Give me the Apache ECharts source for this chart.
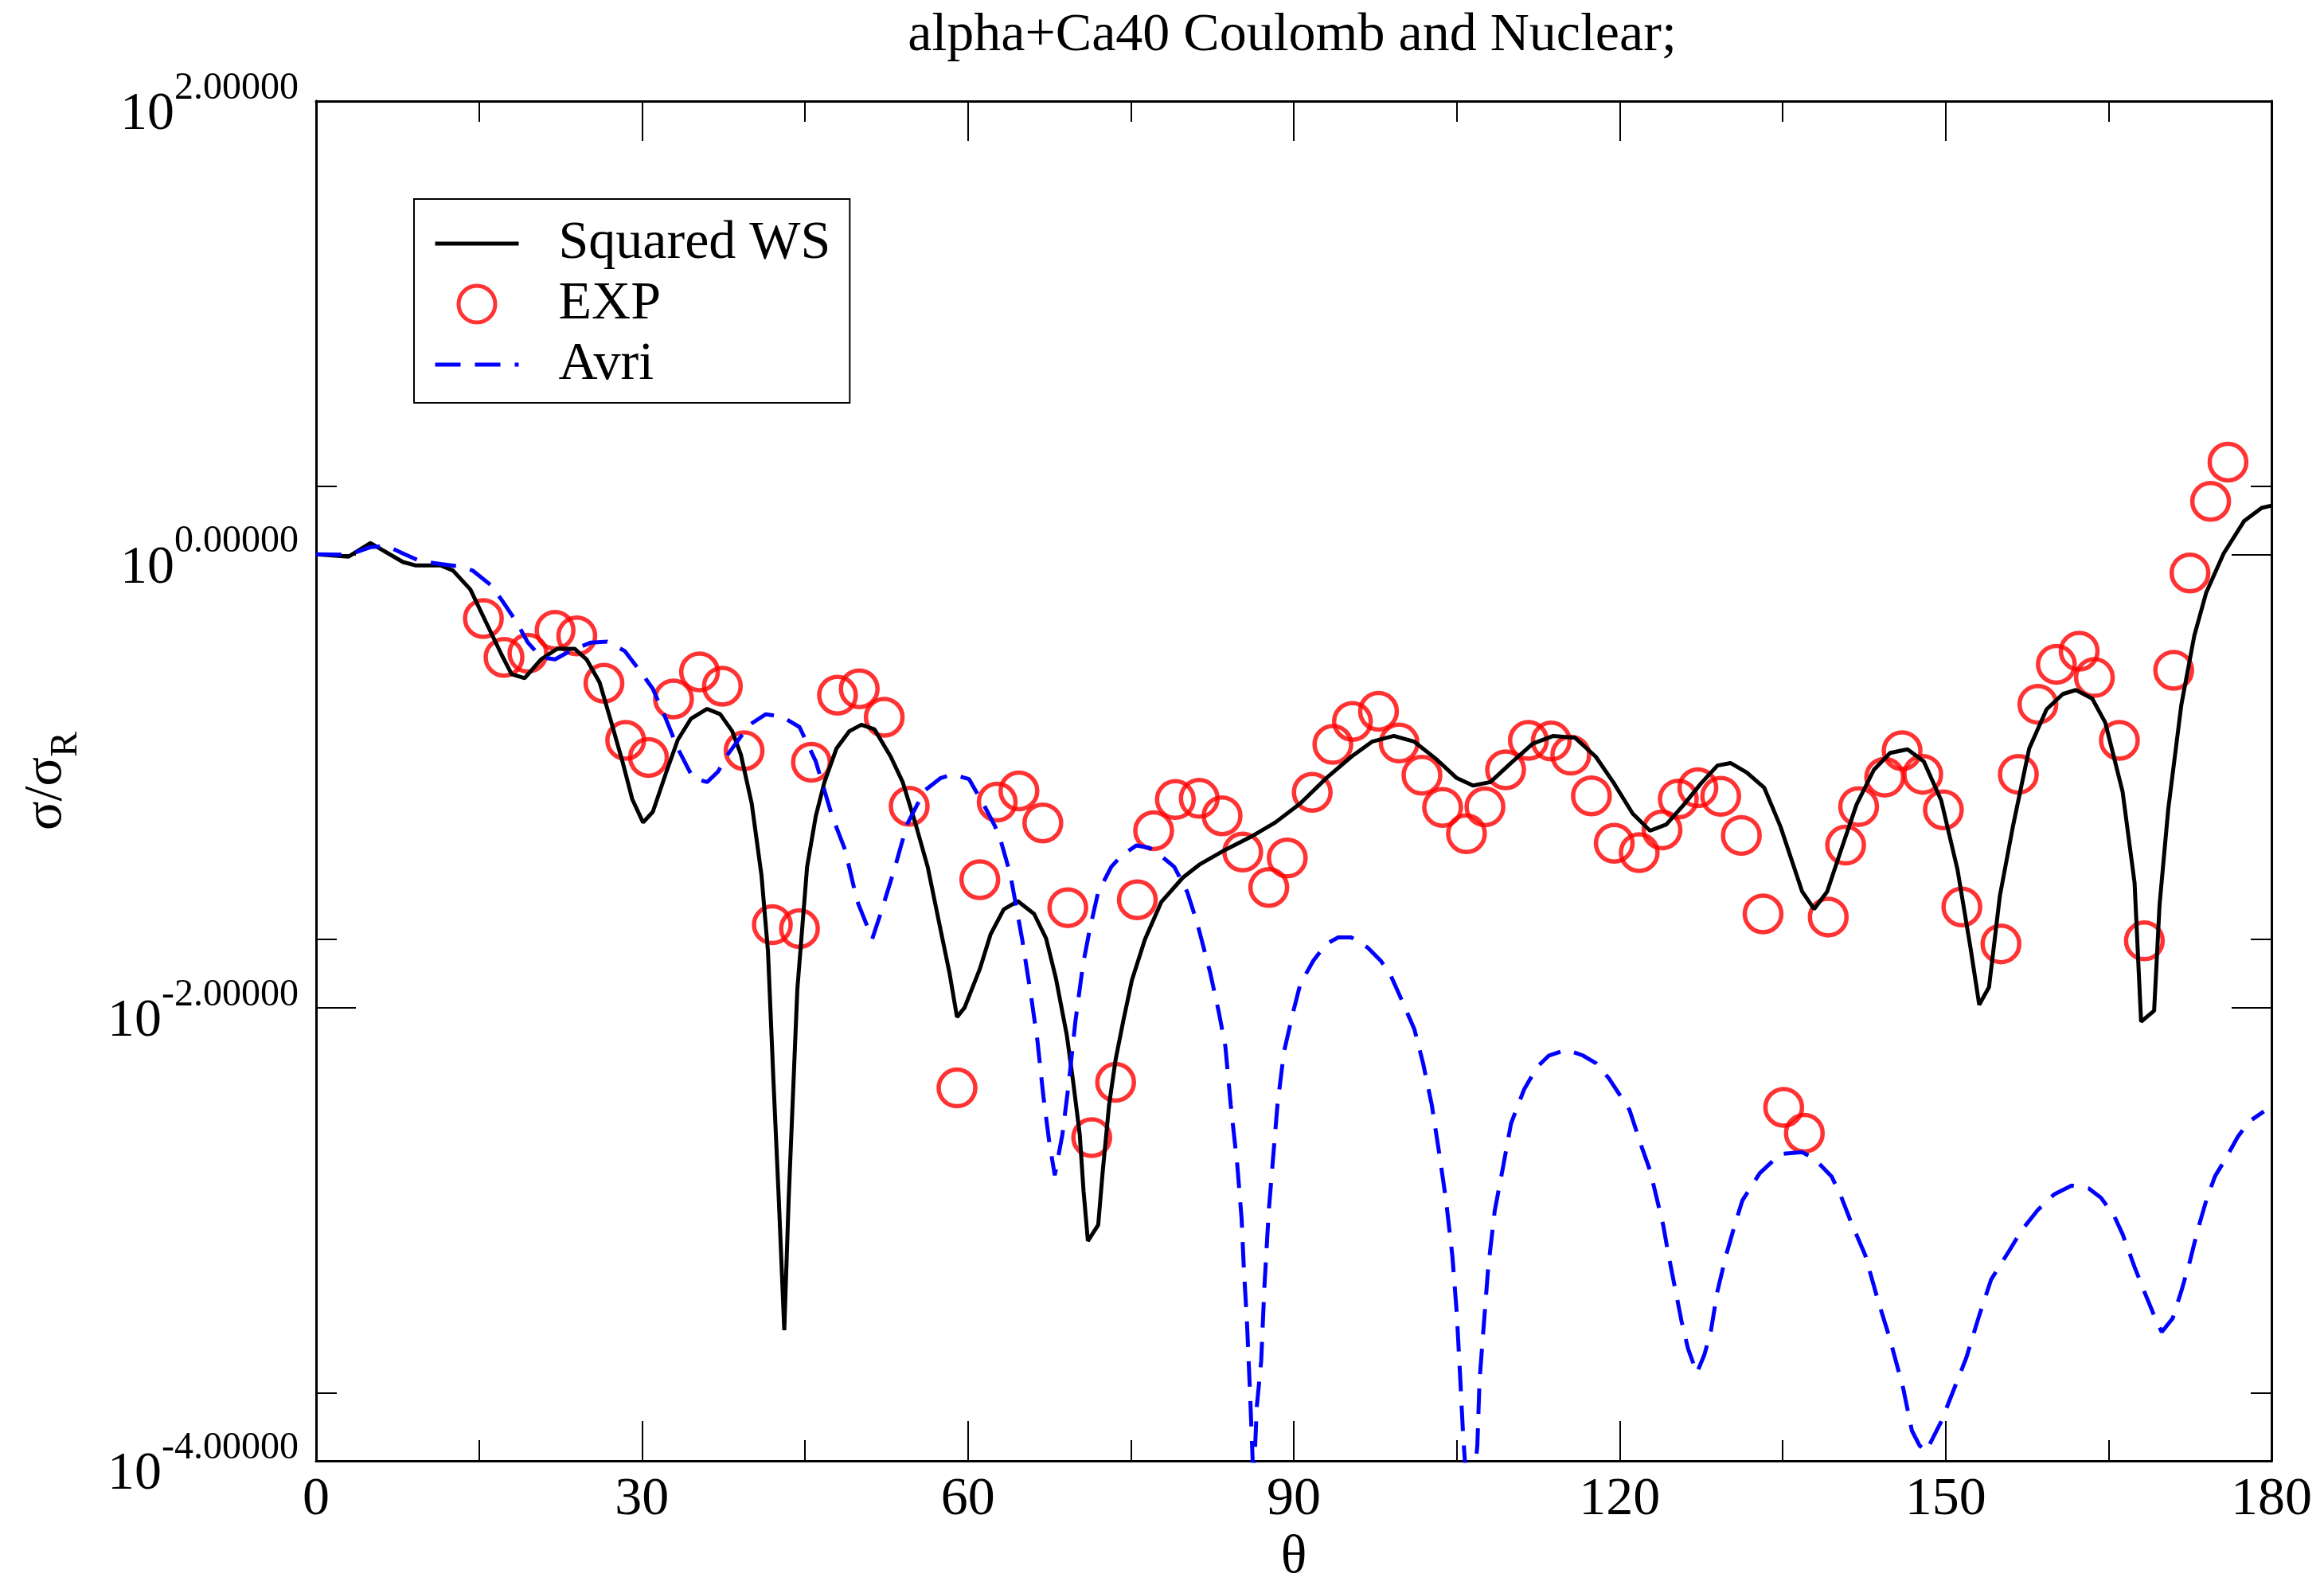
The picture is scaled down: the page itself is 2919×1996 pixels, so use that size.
<!DOCTYPE html>
<html><head><meta charset="utf-8">
<script src="https://cdn.jsdelivr.net/npm/echarts@6/dist/echarts.min.js"></script>
<style>html,body{margin:0;padding:0;background:#fff}#c{width:2919px;height:1996px}</style>
</head><body><div id="c"></div>
<script>
// ---- Data ----
const titleText = 'alpha+Ca40 Coulomb and Nuclear;';
const seriesNames = ['Squared WS', 'EXP', 'Avri'];

const wsTheta = [0,3.0,5.0,8.0,9.2,11.5,12.6,14.2,15.7,17.1,18.0,19.2,20.7,22.2,23.8,24.9,26.1,27.2,28.2,29.1,30.1,31.0,32.2,33.3,34.5,36.0,37.2,38.3,39.1,40.1,41.0,41.6,42.1,42.6,43.1,43.5,44.3,45.2,46.0,46.8,47.9,49.1,50.2,51.4,52.9,54.0,55.2,56.3,57.5,58.3,59.0,59.7,61.1,62.1,63.3,64.6,66.1,67.2,68.1,69.1,69.7,70.3,70.65,71.05,72.0,72.4,73.0,73.6,74.3,75.1,76.3,77.8,79.8,81.3,83.7,86.0,88.3,90.6,93.0,95.3,97.2,99.2,101.1,103.1,105.0,106.5,108.1,110.0,112.0,113.9,115.9,117.8,119.4,121.2,122.8,124.3,125.9,127.5,129.0,130.2,131.7,133.3,134.8,136.8,137.9,139.1,140.3,141.8,143.4,144.9,146.5,148.0,149.6,151.1,152.3,153.1,154.0,155.0,156.2,157.7,159.3,160.8,162.0,163.5,164.7,166.3,167.4,168.0,169.2,169.7,170.5,171.7,172.9,174.0,175.6,177.5,179.1,180];
const wsValue = [1.0,0.977,1.122,0.925,0.893,0.893,0.849,0.700,0.495,0.359,0.296,0.284,0.344,0.383,0.383,0.344,0.272,0.180,0.122,0.0832,0.0656,0.0731,0.108,0.152,0.188,0.208,0.197,0.166,0.131,0.0796,0.0384,0.0177,0.00479,0.00141,0.000377,0.00141,0.0120,0.0418,0.0700,0.0989,0.139,0.166,0.177,0.169,0.128,0.0989,0.0643,0.0418,0.0219,0.0143,0.00908,0.0100,0.0148,0.0211,0.0271,0.0295,0.0259,0.0202,0.0135,0.00759,0.00468,0.00275,0.00155,0.000933,0.00110,0.00186,0.00372,0.00589,0.00871,0.0132,0.0200,0.0292,0.0375,0.0427,0.0497,0.0565,0.0656,0.0796,0.103,0.128,0.149,0.158,0.149,0.125,0.103,0.0955,0.0989,0.120,0.146,0.158,0.155,0.128,0.0989,0.0718,0.0603,0.0643,0.0785,0.0977,0.117,0.120,0.109,0.0935,0.0630,0.0325,0.0272,0.0325,0.0483,0.0785,0.112,0.133,0.138,0.122,0.0820,0.0406,0.0183,0.0103,0.0123,0.0311,0.0630,0.139,0.207,0.242,0.252,0.231,0.181,0.0895,0.0355,0.00867,0.00968,0.0284,0.0752,0.216,0.438,0.679,1.009,1.406,1.603,1.641];

const expTheta = [15.4,17.3,19.5,22.0,24.0,26.5,28.5,30.6,32.9,35.3,37.4,39.4,42.0,44.5,45.6,48.0,50.0,52.3,54.6,59.0,61.1,62.7,64.7,66.9,69.2,71.4,73.6,75.6,77.1,79.1,81.3,83.4,85.3,87.7,89.4,91.7,93.6,95.4,97.8,99.7,101.8,103.7,105.9,107.6,109.5,111.6,113.7,115.5,117.4,119.5,121.8,123.9,125.4,127.2,129.3,131.2,133.2,135.1,137.0,139.2,140.8,142.0,144.4,146.0,147.9,149.8,151.5,155.1,156.7,158.5,160.2,162.3,163.7,166.0,168.3,171.0,172.5,174.4,176.0];
const expValue = [0.521,0.351,0.366,0.462,0.437,0.270,0.151,0.127,0.230,0.303,0.262,0.136,0.0232,0.0223,0.121,0.239,0.255,0.191,0.0774,0.00442,0.0367,0.0807,0.0904,0.0653,0.0276,0.00267,0.00468,0.0299,0.0603,0.0828,0.0838,0.0702,0.0486,0.0339,0.0457,0.0891,0.145,0.183,0.203,0.147,0.106,0.0764,0.0585,0.0769,0.112,0.151,0.150,0.130,0.0859,0.0531,0.0483,0.0608,0.0832,0.0933,0.0855,0.0575,0.0259,0.00363,0.00279,0.0251,0.0521,0.0771,0.104,0.136,0.107,0.0746,0.0278,0.0191,0.107,0.218,0.327,0.374,0.286,0.151,0.0197,0.308,0.828,1.714,2.553];

const avriTheta = [0,3.0,5.0,6.5,8.0,9.6,11.5,13.0,14.4,16.1,17.1,18.4,19.5,20.7,22.0,23.4,25.3,26.8,28.4,29.9,31.0,32.2,33.3,34.7,36.0,37.0,37.9,39.9,41.4,42.9,44.5,46.0,47.5,48.7,49.8,51.2,52.1,53.3,54.4,56.0,57.5,58.6,60.1,61.5,62.5,63.1,63.9,65.0,65.8,66.4,66.96,67.5,68.0,68.7,69.3,69.9,70.6,71.2,72.0,72.4,73.2,74.1,75.5,76.7,77.8,79.0,80.2,81.1,82.3,83.1,83.7,84.2,84.8,85.2,85.4,85.7,86.0,86.3,86.6,87.0,87.3,87.7,88.1,88.5,89.1,89.9,90.6,91.8,93.0,94.1,95.3,96.8,98.0,98.8,99.9,101.1,101.9,102.7,103.4,104.0,104.6,105.0,105.3,105.6,106.2,106.9,107.1,107.5,107.9,108.5,109.3,110.0,111.2,112.4,113.5,115.1,116.6,117.8,119.0,120.9,122.0,122.8,123.4,124.0,124.5,125.1,125.7,126.3,127.1,127.8,128.4,129.0,129.8,130.6,131.3,132.9,134.8,136.8,137.9,139.5,140.3,141.4,142.6,143.7,144.9,146.1,146.9,147.6,148.2,149.6,150.7,151.9,153.1,154.2,155.8,157.0,158.5,160.0,161.6,163.2,164.3,165.5,166.3,167.4,168.4,169.2,169.9,170.9,171.7,172.5,173.2,174.0,174.8,175.8,176.9,177.9,179.3];
const avriValue = [1.0,0.995,1.076,1.089,1.009,0.933,0.906,0.887,0.849,0.731,0.628,0.507,0.408,0.352,0.344,0.375,0.408,0.412,0.375,0.302,0.255,0.188,0.139,0.103,0.0989,0.110,0.131,0.177,0.197,0.192,0.173,0.122,0.0700,0.0497,0.0296,0.0201,0.0272,0.0418,0.0643,0.0906,0.103,0.107,0.102,0.0780,0.0631,0.0530,0.0389,0.0200,0.0114,0.00716,0.00403,0.00254,0.00182,0.00275,0.00468,0.00871,0.0155,0.0219,0.0324,0.0352,0.0418,0.0466,0.0519,0.0507,0.0466,0.0418,0.0323,0.0237,0.0143,0.00955,0.00676,0.00372,0.00202,0.00117,0.000714,0.000402,0.000186,0.0000794,0.000174,0.000275,0.000589,0.00127,0.00218,0.00373,0.00638,0.00938,0.0127,0.0161,0.0191,0.0204,0.0204,0.0184,0.0161,0.0143,0.0109,0.00804,0.00569,0.00373,0.00226,0.00143,0.000802,0.000451,0.000244,0.000127,0.0000501,0.000117,0.000226,0.000402,0.000714,0.00127,0.00202,0.00308,0.00435,0.00547,0.00615,0.00652,0.00615,0.00569,0.00488,0.00354,0.00245,0.00191,0.00145,0.00110,0.000809,0.000577,0.000412,0.000312,0.000244,0.000294,0.000375,0.000560,0.000809,0.00110,0.00141,0.00186,0.00226,0.00230,0.00216,0.00180,0.00150,0.00110,0.000809,0.000526,0.000342,0.000209,0.000136,0.000117,0.000110,0.000149,0.000203,0.000284,0.000438,0.000632,0.000836,0.00104,0.00128,0.00150,0.00164,0.00159,0.00145,0.00121,0.00100,0.000716,0.000543,0.000438,0.000370,0.000425,0.000560,0.000762,0.00104,0.00141,0.00180,0.00216,0.00269,0.00313,0.00348];

const xMin = 0, xMax = 180, xStep = 30;
const yMin = 1e-4, yMax = 100;
const yMajorTicks = [1e-4, 1e-2, 1, 100];
const yMinorTicks = [2e-4, 2e-2, 2];

// ---- Chart ----
const FONT = 'Liberation Serif';
const pair = (xs, ys) => xs.map((x, i) => [x, ys[i]]);

function xAx(pos, showLabel) {
  return {
    type: 'value', position: pos, min: xMin, max: xMax, interval: xStep,
    axisLine: { show: true, onZero: false, lineStyle: { color: '#000', width: 3 } },
    axisTick: { show: true, inside: true, length: 50, lineStyle: { color: '#000', width: 2 } },
    minorTick: { show: true, splitNumber: 2, length: 26, lineStyle: { color: '#000', width: 2 } },
    splitLine: { show: false }, minorSplitLine: { show: false },
    axisLabel: { show: showLabel, margin: 15, fontFamily: FONT, fontSize: 68, color: '#000' },
    name: showLabel ? 'θ' : '', nameLocation: 'middle', nameGap: 88,
    nameTextStyle: { fontFamily: FONT, fontSize: 68, color: '#000' }
  };
}
function yAx(pos, ticks, len, showLabel, withName) {
  const ax = {
    type: 'log', logBase: 10, position: pos, min: yMin, max: yMax,
    axisLine: { show: true, onZero: false, lineStyle: { color: '#000', width: 3 } },
    axisTick: { show: true, inside: true, length: len, customValues: ticks, lineStyle: { color: '#000', width: 2 } },
    minorTick: { show: false }, splitLine: { show: false }, minorSplitLine: { show: false },
    axisLabel: {
      show: showLabel, customValues: ticks, margin: 22, padding: [12, 0, 0, 0],
      formatter: v => '{b|10}{s|' + Math.round(Math.log10(v)).toFixed(5) + '}',
      rich: {
        b: { fontFamily: FONT, fontSize: 68, lineHeight: 68, verticalAlign: 'bottom', color: '#000' },
        s: { fontFamily: FONT, fontSize: 48, lineHeight: 91, verticalAlign: 'top', color: '#000' }
      }
    }
  };
  if (withName) {
    ax.name = '{a|σ/σ}{r|R}';
    ax.nameLocation = 'middle';
    ax.nameGap = 290;
    ax.nameTextStyle = {
      rich: {
        a: { fontFamily: FONT, fontSize: 68, lineHeight: 68, verticalAlign: 'top', color: '#000' },
        r: { fontFamily: FONT, fontSize: 48, lineHeight: 83, verticalAlign: 'bottom', color: '#000' }
      }
    };
  }
  return ax;
}

const hiddenSymbol = { color: 'rgba(0,0,0,0)', borderWidth: 0, borderColor: 'rgba(0,0,0,0)' };

const chart = echarts.init(document.getElementById('c'), null, { renderer: 'canvas' });
chart.setOption({
  animation: false,
  backgroundColor: '#fff',
  title: {
    text: titleText, left: 1623, top: 11, textAlign: 'center', padding: 0,
    textStyle: { fontFamily: FONT, fontSize: 68, fontWeight: 'normal', color: '#000' }
  },
  grid: { left: 397, top: 127, right: 66, bottom: 149, containLabel: false },
  legend: {
    orient: 'vertical', left: 520, top: 250, padding: [22, 24, 14, 24], itemGap: 8,
    itemWidth: 105, itemHeight: 46, backgroundColor: '#fff', borderColor: '#000', borderWidth: 2,
    selectedMode: false,
    textStyle: { fontFamily: FONT, fontSize: 68, lineHeight: 68, color: '#000', padding: [0, 0, 0, 45] },
    lineStyle: { width: 5 },
    data: [
      { name: seriesNames[0], itemStyle: hiddenSymbol },
      { name: seriesNames[1], itemStyle: { color: 'rgba(0,0,0,0)', borderColor: '#ff0000', borderWidth: 5 } },
      { name: seriesNames[2], itemStyle: hiddenSymbol }
    ]
  },
  xAxis: [xAx('bottom', true), xAx('top', false)],
  yAxis: [
    yAx('left', yMajorTicks, 50, true, true),
    yAx('right', yMajorTicks, 50, false, false),
    yAx('left', yMinorTicks, 26, false, false),
    yAx('right', yMinorTicks, 26, false, false)
  ],
  series: [
    {
      name: seriesNames[0], type: 'line', xAxisIndex: 0, yAxisIndex: 0,
      data: pair(wsTheta, wsValue), symbol: 'none', clip: true,
      lineStyle: { color: '#000', width: 5 }, itemStyle: { color: '#000' }
    },
    {
      name: seriesNames[1], type: 'scatter', xAxisIndex: 0, yAxisIndex: 0,
      data: pair(expTheta, expValue), symbol: 'circle', symbolSize: 46,
      itemStyle: { color: 'rgba(0,0,0,0)', borderColor: '#ff0000', borderWidth: 5.5 }
    },
    {
      name: seriesNames[2], type: 'line', xAxisIndex: 0, yAxisIndex: 0,
      data: pair(avriTheta, avriValue), symbol: 'none', clip: true,
      lineStyle: { color: '#0000ff', width: 5, type: [32, 18] }, itemStyle: { color: '#0000ff' }
    }
  ]
});
</script></body></html>
